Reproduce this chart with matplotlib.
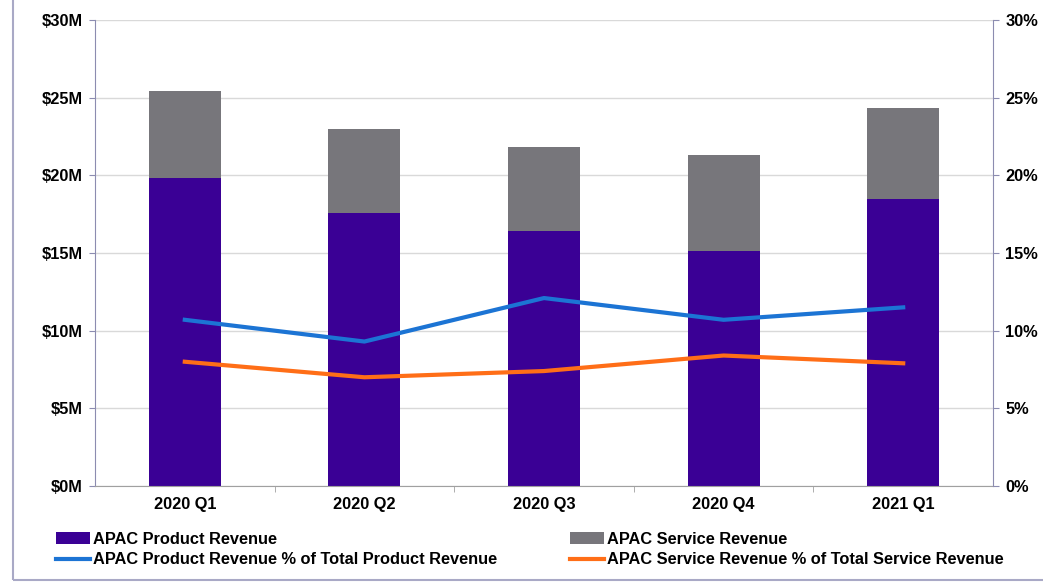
import matplotlib.pyplot as plt
import numpy as np
from matplotlib.patches import Rectangle
from matplotlib.ticker import FuncFormatter, FixedLocator

plt.rcParams['font.family'] = ['Liberation Sans', 'DejaVu Sans']
plt.rcParams['font.weight'] = 'bold'

# Data
quarters = ['2020 Q1', '2020 Q2', '2020 Q3', '2020 Q4', '2021 Q1']
product_rev = [19.8, 17.6, 16.4, 15.1, 18.5]      # $M
service_rev = [5.6, 5.4, 5.4, 6.2, 5.85]           # $M
product_pct = [10.7, 9.3, 12.1, 10.7, 11.5]       # % of total product revenue
service_pct = [8.0, 7.0, 7.4, 8.4, 7.9]           # % of total service revenue

purple = '#3A0095'
grey = '#77767B'
blue = '#1C74D4'
orange = '#FF6E17'
axis_col = '#8C8CB0'
fs = 11.8

fig = plt.figure(figsize=(10.43, 5.84), dpi=100)
ax = fig.add_axes([95 / 1043, 1 - 486 / 584, 898 / 1043, 466 / 584])
ax2 = ax.twinx()

# outer frame
fig.patches.append(Rectangle((13 / 1043, 4 / 584), 1.1, 1.1, transform=fig.transFigure,
                             fill=False, edgecolor='#A9A9C6', linewidth=1.5))

pos = np.arange(len(quarters))
width = 0.4
b1 = ax.bar(pos, product_rev, width, color=purple, label='APAC Product Revenue', zorder=2)
b2 = ax.bar(pos, service_rev, width, bottom=product_rev, color=grey,
            label='APAC Service Revenue', zorder=2)
l1, = ax2.plot(pos, product_pct, color=blue, linewidth=3,
               label='APAC Product Revenue % of Total Product Revenue')
l2, = ax2.plot(pos, service_pct, color=orange, linewidth=3,
               label='APAC Service Revenue % of Total Service Revenue')

ax.set_xlim(-0.5, len(quarters) - 0.5)
ax.set_ylim(0, 30)
ax2.set_ylim(0, 30)
ax.set_yticks(np.arange(0, 31, 5))
ax2.set_yticks(np.arange(0, 31, 5))
ax.yaxis.set_major_formatter(FuncFormatter(lambda v, p: '${:.0f}M'.format(v)))
ax2.yaxis.set_major_formatter(FuncFormatter(lambda v, p: '{:.0f}%'.format(v)))
ax.grid(axis='y', color='#D9D9D9', linewidth=1, zorder=0)
ax.set_axisbelow(True)

ax.set_xticks(pos)
ax.set_xticklabels(quarters)
ax.xaxis.set_minor_locator(FixedLocator(np.arange(0.5, len(quarters) - 0.5, 1)))
ax.tick_params(axis='x', which='major', length=0, pad=8, labelsize=fs)
ax.tick_params(axis='x', which='minor', length=4, color='#A0A0A0')
ax.tick_params(axis='y', length=4, color=axis_col, labelsize=fs, pad=5)
ax2.tick_params(axis='y', length=4, color=axis_col, labelsize=fs, pad=5)

for a in (ax, ax2):
    a.spines['top'].set_visible(False)
    a.spines['left'].set_color(axis_col)
    a.spines['right'].set_color(axis_col)
    a.spines['bottom'].set_color('#A0A0A0')
ax.spines['right'].set_visible(False)
ax2.spines['left'].set_visible(False)
ax2.spines['bottom'].set_visible(False)

fig.legend([b1, l1, b2, l2],
           [b1.get_label(), l1.get_label(), b2.get_label(), l2.get_label()],
           ncol=2, loc='lower left', bbox_to_anchor=(41 / 1043, 2 / 584),
           frameon=False, fontsize=fs, handlelength=2.1, handletextpad=0.2,
           columnspacing=4.4, labelspacing=0.35)

fig.savefig('out.png', dpi=100)
